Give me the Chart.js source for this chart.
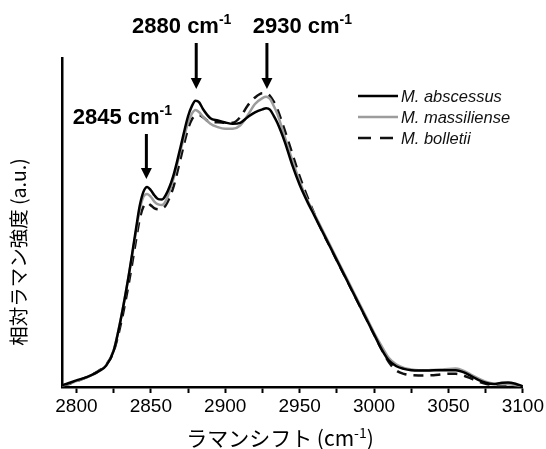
<!DOCTYPE html>
<html>
<head>
<meta charset="utf-8">
<script src="https://cdn.jsdelivr.net/npm/chart.js@4/dist/chart.umd.min.js"></script>
<style>
    html, body { margin: 0; padding: 0; background: #fff; }
    #wrap { width: 546px; height: 449px; position: relative; }
</style>
</head>
<body>
<div id="wrap"><canvas id="ramanChart"></canvas></div>
<script>
// Raman shift (cm-1); sampled more finely around the three peaks
const shifts = [
    2790, 2795, 2800, 2805, 2810, 2815, 2820, 2825, 2830, 2835,
    2840, 2842.5, 2845, 2847.5, 2850, 2852.5, 2855, 2857.5, 2860, 2865,
    2870, 2875, 2877.5, 2880, 2882.5, 2885, 2890, 2895, 2900, 2905,
    2910, 2915, 2920, 2925, 2927.5, 2930, 2932.5, 2935, 2940, 2945,
    2950, 2955, 2960, 2965, 2970, 2975, 2980, 2985, 2990, 2995,
    3000, 3005, 3010, 3015, 3020, 3025, 3030, 3035, 3040, 3045,
    3050, 3055, 3060, 3065, 3070, 3075, 3080, 3085, 3090, 3095,
    3100
];

const abscessus = [
    0.5, 1.2, 2.0, 2.7, 3.6, 4.8, 6.5, 11.0, 21.0, 33.5,
    48.0, 55.0, 59.3, 60.8, 59.8, 58.2, 57.1, 57.0, 58.3, 64.0,
    73.0, 82.3, 85.3, 87.0, 86.5, 84.5, 81.7, 81.0, 80.4, 80.0,
    80.3, 82.0, 83.5, 84.4, 84.7, 84.3, 82.5, 80.3, 74.5, 67.5,
    61.5, 56.5, 52.0, 47.5, 43.0, 38.5, 34.0, 29.5, 25.0, 20.5,
    16.0, 11.5, 8.0, 6.3, 5.5, 5.1, 5.0, 5.0, 5.1, 5.1,
    5.1, 5.1, 4.5, 3.4, 2.2, 1.3, 0.9, 1.2, 1.4, 1.0,
    0.2
];

const massiliense = [
    0.4, 1.0, 1.8, 2.6, 3.5, 4.8, 6.6, 11.2, 21.2, 33.5,
    47.0, 53.8, 57.8, 58.7, 57.8, 56.3, 55.5, 55.3, 56.5, 63.0,
    72.0, 80.3, 83.0, 84.2, 83.5, 82.2, 80.0, 79.0, 78.5, 78.5,
    79.5, 82.5, 86.0, 87.8, 88.2, 87.6, 85.5, 83.0, 76.0, 69.0,
    62.5, 57.0, 52.5, 48.0, 43.5, 39.0, 34.5, 30.0, 25.5, 21.0,
    16.5, 12.5, 8.8, 6.8, 5.8, 5.3, 5.1, 5.1, 5.2, 5.3,
    5.5, 5.6, 5.0, 3.8, 2.6, 1.6, 1.0, 0.8, 0.8, 0.6,
    0.2
];

const bolletii = [
    0.3, 0.9, 1.7, 2.6, 3.6, 4.9, 6.8, 10.8, 19.5, 31.0,
    44.5, 51.0, 54.8, 55.9, 55.2, 54.3, 54.0, 54.3, 55.2, 60.5,
    69.5, 78.5, 81.3, 82.5, 82.6, 82.0, 80.5, 80.5, 80.3, 80.3,
    82.0, 85.5, 88.0, 89.3, 89.2, 88.5, 86.8, 84.5, 78.0, 71.0,
    64.0, 58.0, 52.5, 47.5, 43.0, 38.5, 34.0, 29.5, 25.0, 20.5,
    16.0, 11.5, 7.5, 5.0, 4.0, 3.6, 3.5, 3.5, 3.6, 3.8,
    4.0, 4.0, 3.5, 2.6, 1.7, 1.0, 0.6, 0.4, 0.4, 0.3,
    0.2
];

const seriesNames = ['M. abscessus', 'M. massiliense', 'M. bolletii'];

// x ticks: labelled every 50, minor every 25
const tickValues = [2800, 2825, 2850, 2875, 2900, 2925, 2950, 2975, 3000, 3025, 3050, 3075, 3100];
const tickLabels = ['2800', '', '2850', '', '2900', '', '2950', '', '3000', '', '3050', '', '3100'];

// peak markers: where the arrow points, and its label
const peakShifts = [2847, 2880.5, 2928];
const peakLabels = ['2845', '2880', '2930'];

const xTitle = 'ラマンシフト (cm';
const yTitle = '相対ラマン強度 (a.u.)';

const GRAY = '#9c9c9c';

function drawArrow(ctx, x, y0, y1) {
    ctx.save();
    ctx.strokeStyle = '#000';
    ctx.fillStyle = '#000';
    ctx.lineWidth = 3;
    ctx.beginPath();
    ctx.moveTo(x, y0);
    ctx.lineTo(x, y1 - 9);
    ctx.stroke();
    ctx.beginPath();
    ctx.moveTo(x - 5.5, y1 - 11);
    ctx.lineTo(x + 5.5, y1 - 11);
    ctx.lineTo(x, y1);
    ctx.closePath();
    ctx.fill();
    ctx.restore();
}

// centred text followed by a "-1" superscript (and optional tail)
function drawWithSup(ctx, text, cx, y, font, supFont, supRise, tail) {
    ctx.font = font;
    const w1 = ctx.measureText(text).width;
    const w3 = tail ? ctx.measureText(tail).width : 0;
    ctx.font = supFont;
    const w2 = ctx.measureText('-1').width;
    const left = cx - (w1 + w2 + w3) / 2;
    ctx.textAlign = 'left';
    ctx.textBaseline = 'alphabetic';
    ctx.font = font;
    ctx.fillText(text, left, y);
    if (tail) ctx.fillText(tail, left + w1 + w2, y);
    ctx.font = supFont;
    ctx.fillText('-1', left + w1, y - supRise);
}

const annotationPlugin = {
    id: 'annotations',
    afterDraw(chart) {
        const ctx = chart.ctx;
        const xs = chart.scales.x;
        ctx.save();
        ctx.fillStyle = '#000';

        // peak labels + arrows
        const boldFont = 'bold 22px "Liberation Sans", Arial, sans-serif';
        const supBold = 'bold 14px "Liberation Sans", Arial, sans-serif';
        const labelShift = [-24, -14.5, 35.5];
        peakShifts.forEach((s, i) => {
            const px = xs.getPixelForValue(s);
            if (i === 0) {
                drawWithSup(ctx, peakLabels[i] + ' cm', px + labelShift[i], 124, boldFont, supBold, 9);
                drawArrow(ctx, px, 134, 179);
            } else {
                drawWithSup(ctx, peakLabels[i] + ' cm', px + labelShift[i], 33, boldFont, supBold, 9);
                drawArrow(ctx, px, 43, 89);
            }
        });

        // x axis title
        drawWithSup(ctx, xTitle, 280, 446, '21px "Noto Sans CJK JP", sans-serif',
            '14px "Noto Sans CJK JP", sans-serif', 8, ')');

        // y axis title
        ctx.save();
        ctx.translate(19, 252);
        ctx.rotate(-Math.PI / 2);
        ctx.font = '19.5px "Noto Sans CJK JP", sans-serif';
        ctx.textAlign = 'center';
        ctx.textBaseline = 'middle';
        ctx.fillText(yTitle, 0, 0);
        ctx.restore();

        // legend
        const lx0 = 358, lx1 = 398, rowY = [96, 117, 138];
        chart.data.datasets.forEach((ds, i) => {
            ctx.save();
            ctx.strokeStyle = ds.borderColor;
            ctx.lineWidth = ds.borderWidth;
            ctx.setLineDash(ds.borderDash ? [13, 9] : []);
            ctx.beginPath();
            ctx.moveTo(lx0, rowY[i]);
            ctx.lineTo(lx1, rowY[i]);
            ctx.stroke();
            ctx.restore();
            ctx.font = 'italic 16.5px "Liberation Sans", Arial, sans-serif';
            ctx.fillStyle = '#111';
            ctx.textAlign = 'left';
            ctx.textBaseline = 'middle';
            ctx.fillText(seriesNames[i], 401, rowY[i] + 1);
        });

        ctx.restore();
    }
};

function buildData() {
    const toPoints = arr => shifts.map((s, i) => ({ x: s, y: arr[i] }));
    return {
        datasets: [
            {
                label: seriesNames[0],
                data: toPoints(abscessus),
                borderColor: '#000',
                borderWidth: 2.5
            },
            {
                label: seriesNames[1],
                data: toPoints(massiliense),
                borderColor: GRAY,
                borderWidth: 2.5
            },
            {
                label: seriesNames[2],
                data: toPoints(bolletii),
                borderColor: '#111',
                borderWidth: 2.5,
                borderDash: [10, 7]
            }
        ]
    };
}

const ctx = document.getElementById('ramanChart').getContext('2d');
new Chart(ctx, {
    type: 'line',
    data: buildData(),
    options: {
        responsive: true,
        maintainAspectRatio: false,
        animation: false,
        devicePixelRatio: 1,
        layout: { padding: { left: 62, right: 23, top: 58, bottom: 0 } },
        elements: {
            point: { radius: 0 },
            line: { cubicInterpolationMode: 'monotone', fill: false }
        },
        plugins: {
            legend: { display: false },
            tooltip: { enabled: false }
        },
        scales: {
            x: {
                type: 'linear',
                min: 2790.3,
                max: 3100,
                afterBuildTicks: scale => {
                    scale.ticks = tickValues.map(v => ({ value: v }));
                },
                afterFit: scale => { scale.height = 62; },
                ticks: {
                    autoSkip: false,
                    maxRotation: 0,
                    padding: 2,
                    color: '#000',
                    font: { family: '"Liberation Sans", Arial, sans-serif', size: 19 },
                    callback: (value, index) => tickLabels[index]
                },
                grid: {
                    drawOnChartArea: false,
                    drawTicks: true,
                    tickLength: 6,
                    tickWidth: 2,
                    tickColor: '#000'
                },
                border: { display: true, color: '#000', width: 2.5 }
            },
            y: {
                min: 0,
                max: 100,
                afterFit: scale => { scale.width = 0; },
                ticks: { display: false },
                grid: { display: false, drawTicks: false },
                border: { display: true, color: '#000', width: 2.5 }
            }
        }
    },
    plugins: [annotationPlugin]
});
</script>
</body>
</html>
